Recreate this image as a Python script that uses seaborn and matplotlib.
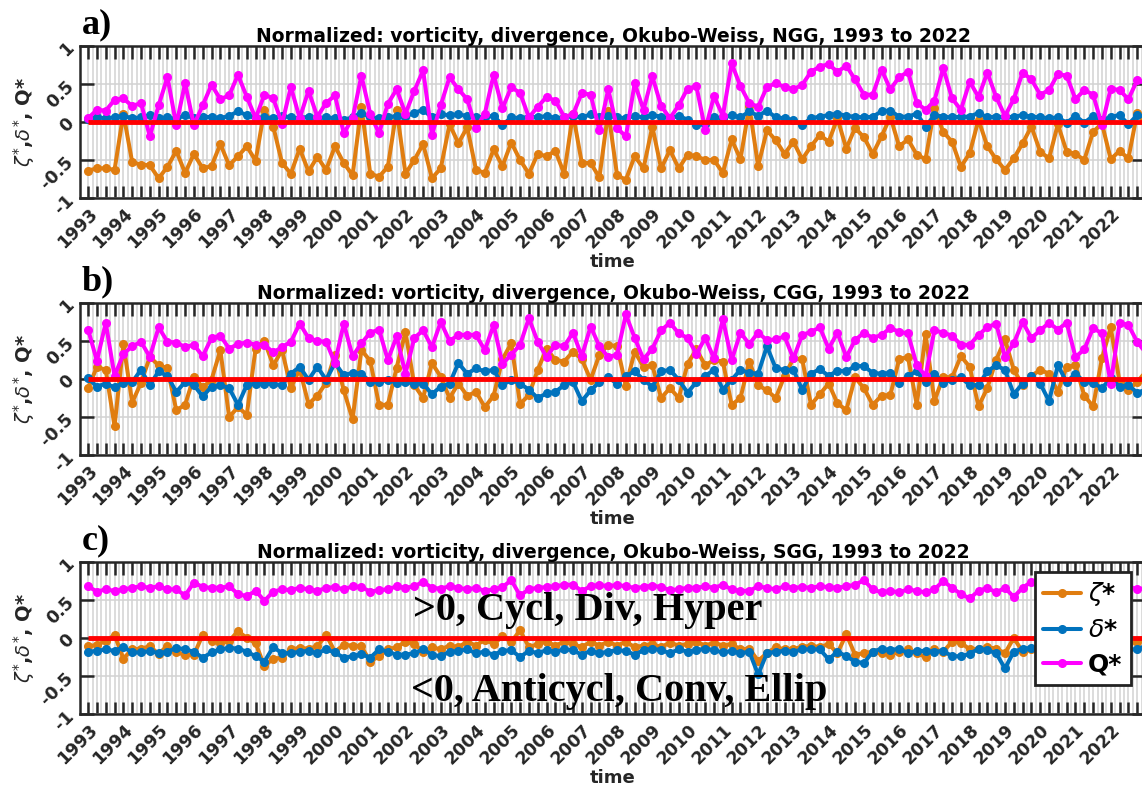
import numpy as np
import pandas as pd
import matplotlib.pyplot as plt
import seaborn as sns

# quarterly time axis, 1993 .. 2023
n_pts = 121
t = 1993 + np.arange(n_pts) / 4.0
years = np.arange(1993, 2023)

# ---- panel a) NGG ----
za = [-0.64, -0.61, -0.61, -0.63,  0.11, -0.53, -0.56, -0.57,  -0.74, -0.59, -0.38, -0.67,
      -0.42, -0.61, -0.58, -0.29,  -0.57, -0.45, -0.32, -0.51,  0.16, -0.06, -0.54, -0.68,
      -0.35, -0.65, -0.46, -0.63,  -0.32, -0.54, -0.70, 0.20,  -0.68, -0.72, -0.59, 0.16,
      -0.68, -0.50, -0.29, -0.74,  -0.61, -0.03, -0.28, -0.07,  -0.63, -0.67, -0.36, -0.58,
      -0.27, -0.50, -0.68, -0.42,  -0.45, -0.38, -0.68, 0.11,  -0.54, -0.54, -0.73, 0.14,
      -0.70, -0.76, -0.45, -0.61,  -0.06, -0.61, -0.37, -0.61,  -0.43, -0.45, -0.50, -0.50,
      -0.67, -0.23, -0.49, 0.21,  -0.58, -0.11, -0.24, -0.42,  -0.26, -0.49, -0.32, -0.17,
      -0.26, 0.05, -0.35, -0.08,  -0.20, -0.42, -0.19, 0.07,  -0.32, -0.23, -0.43, -0.49,
      0.18, -0.13, -0.26, -0.59,  -0.41, 0.03, -0.32, -0.49,  -0.63, -0.48, -0.28, -0.06,
      -0.39, -0.48, -0.03, -0.39,  -0.42, -0.50, -0.13, -0.02,  -0.49, -0.38, -0.48, 0.12,
      -0.04]
da = [0.04, 0.06, 0.05, 0.06,  0.08, 0.05, 0.06, 0.09,  0.05, 0.06, 0.04, 0.09,
      0.05, 0.06, 0.07, 0.05,  0.08, 0.14, 0.09, 0.05,  0.06, 0.05, 0.08, 0.06,
      0.05, 0.07, 0.05, 0.06,  0.05, 0.03, 0.06, 0.12,  0.06, 0.05, 0.06, 0.08,
      0.07, 0.12, 0.16, 0.06,  0.10, 0.09, 0.10, 0.08,  0.06, 0.07, 0.08, -0.04,
      0.06, 0.05, 0.07, 0.06,  0.08, 0.05, 0.06, 0.08,  0.06, 0.10, 0.06, 0.08,
      0.06, 0.05, 0.08, 0.06,  0.09, 0.07, 0.05, 0.08,  0.03, -0.04, -0.03, 0.06,
      0.05, 0.09, 0.06, 0.14,  0.08, 0.15, 0.06, 0.05,  0.02, -0.04, 0.05, 0.07,
      0.09, 0.11, 0.08, 0.07,  0.06, 0.07, 0.14, 0.15,  0.07, 0.07, 0.11, -0.06,
      0.09, 0.07, 0.06, 0.07,  0.07, 0.12, 0.06, 0.07,  0.06, 0.07, 0.09, 0.07,
      0.06, 0.05, 0.06, -0.01,  0.08, -0.01, 0.08, 0.02,  0.07, 0.09, -0.03, 0.09,
      0.07]
qa = [0.05, 0.16, 0.15, 0.29,  0.31, 0.21, 0.25, -0.19,  0.22, 0.59, -0.04, 0.51,
      -0.04, 0.22, 0.49, 0.30,  0.35, 0.62, 0.33, 0.05,  0.36, 0.31, -0.02, 0.46,
      0.05, 0.41, 0.07, 0.25,  0.35, -0.15, 0.05, 0.61,  0.11, -0.15, 0.24, 0.43,
      0.11, 0.41, 0.68, -0.17,  0.22, 0.59, 0.43, 0.30,  -0.08, 0.11, 0.62, 0.18,
      0.46, 0.38, 0.06, 0.20,  0.33, 0.28, 0.07, 0.10,  0.38, 0.36, -0.11, 0.43,
      -0.08, -0.19, 0.51, 0.16,  0.60, 0.21, 0.05, 0.22,  0.44, 0.47, -0.10, 0.34,
      0.08, 0.77, 0.47, 0.25,  0.20, 0.46, 0.51, 0.46,  0.43, 0.49, 0.66, 0.73,
      0.76, 0.66, 0.74, 0.56,  0.36, 0.36, 0.69, 0.43,  0.59, 0.66, 0.25, 0.16,
      0.28, 0.71, 0.31, 0.16,  0.53, 0.33, 0.65, 0.33,  0.08, 0.30, 0.65, 0.56,
      0.36, 0.42, 0.63, 0.61,  0.30, 0.42, 0.36, -0.04,  0.44, 0.42, 0.30, 0.55,
      0.51]

# ---- panel b) CGG ----
zb = [-0.12, 0.16, 0.12, -0.62,  0.46, -0.31, -0.05, 0.29,  0.18, 0.14, -0.41, -0.34,
      0.03, -0.11, -0.01, 0.38,  -0.50, -0.37, -0.47, 0.40,  0.50, 0.18, 0.38, -0.12,
      0.13, -0.33, -0.22, -0.05,  0.32, -0.15, -0.53, 0.38,  0.24, -0.34, -0.34, 0.15,
      0.62, -0.08, -0.25, 0.21,  0.03, -0.25, -0.06, -0.22,  -0.17, -0.37, -0.22, 0.26,
      0.47, -0.33, -0.21, 0.12,  0.40, 0.25, 0.23, 0.36,  0.26, -0.01, 0.32, 0.45,
      0.43, -0.09, 0.36, 0.16,  0.18, -0.25, -0.12, -0.25,  0.20, 0.39, 0.18, 0.25,
      0.23, -0.34, -0.25, 0.23,  -0.08, -0.15, -0.25, 0.04,  0.27, 0.26, -0.34, -0.20,
      -0.06, -0.32, -0.41, 0.02,  -0.12, -0.34, -0.22, -0.21,  0.26, 0.29, -0.34, 0.59,
      -0.29, 0.03, 0.02, 0.30,  0.16, -0.36, -0.12, 0.25,  0.52, 0.12, -0.08, 0.04,
      0.12, 0.07, -0.17, 0.16,  0.18, -0.22, -0.36, 0.27,  0.68, -0.04, -0.14, -0.04,
      0.10]
db = [0.01, -0.10, -0.06, -0.11,  -0.05, -0.04, 0.12, -0.08,  0.10, 0.04, -0.17, -0.04,
      -0.08, -0.23, -0.10, -0.08,  -0.12, -0.34, -0.08, -0.06,  -0.06, -0.07, -0.08, 0.07,
      0.16, -0.01, 0.16, -0.01,  0.21, 0.05, 0.08, 0.07,  -0.04, -0.04, -0.01, -0.05,
      -0.04, -0.06, -0.06, -0.20,  -0.10, -0.06, 0.21, 0.07,  0.14, 0.10, 0.12, -0.08,
      -0.01, -0.06, -0.14, -0.25,  -0.19, -0.17, -0.08, -0.04,  -0.29, -0.15, -0.04, 0.02,
      -0.06, 0.04, 0.10, -0.01,  -0.10, 0.10, 0.12, -0.01,  -0.18, -0.04, 0.04, 0.12,
      -0.14, -0.01, 0.12, 0.08,  0.07, 0.43, 0.14, 0.12,  0.12, -0.14, 0.07, 0.13,
      0.04, 0.11, 0.10, 0.17,  0.17, 0.08, 0.07, 0.08,  -0.05, 0.04, 0.10, -0.04,
      0.07, -0.05, -0.01, 0.02,  -0.08, -0.08, 0.10, 0.18,  0.12, -0.20, -0.06, 0.04,
      -0.06, -0.29, 0.18, -0.04,  0.07, -0.04, -0.05, -0.12,  0.01, -0.10, -0.08, -0.18,
      -0.14]
qb = [0.65, 0.24, 0.74, 0.04,  0.33, 0.43, 0.49, 0.29,  0.68, 0.49, 0.48, 0.42,
      0.45, 0.30, 0.54, 0.57,  0.40, 0.46, 0.48, 0.45,  0.45, 0.35, 0.42, 0.49,
      0.73, 0.54, 0.50, 0.49,  0.21, 0.73, 0.30, 0.47,  0.61, 0.65, 0.25, 0.56,
      0.07, 0.54, 0.64, 0.42,  0.75, 0.50, 0.58, 0.58,  0.58, 0.38, 0.71, 0.20,
      0.32, 0.45, 0.80, 0.49,  0.29, 0.45, 0.43, 0.61,  0.30, 0.69, 0.43, 0.29,
      0.32, 0.85, 0.54, 0.26,  0.40, 0.64, 0.74, 0.60,  0.54, 0.33, 0.54, 0.27,
      0.79, 0.25, 0.61, 0.46,  0.61, 0.51, 0.52, 0.56,  0.27, 0.58, 0.62, 0.68,
      0.40, 0.61, 0.29, 0.51,  0.61, 0.54, 0.58, 0.67,  0.62, 0.60, 0.18, 0.04,
      0.64, 0.61, 0.57, 0.45,  0.45, 0.58, 0.68, 0.73,  0.29, 0.47, 0.75, 0.54,
      0.64, 0.74, 0.65, 0.74,  0.29, 0.39, 0.67, 0.60,  -0.06, 0.74, 0.71, 0.49,
      0.34]

# ---- panel c) SGG ----
zc = [-0.11, -0.09, -0.04, 0.04,  -0.27, -0.15, -0.14, -0.11,  -0.21, -0.10, -0.19, -0.22,
      -0.22, 0.04, -0.04, -0.07,  -0.04, 0.09, 0.00, -0.07,  -0.37, -0.27, -0.26, -0.15,
      -0.13, -0.14, -0.11, 0.04,  -0.18, -0.09, -0.10, -0.11,  -0.31, -0.24, -0.15, -0.12,
      -0.05, -0.08, -0.18, -0.12,  -0.15, -0.10, -0.12, -0.05,  -0.10, -0.02, -0.08, 0.02,
      -0.05, 0.10, -0.12, -0.08,  -0.05, -0.10, -0.05, -0.08,  -0.12, -0.05, -0.10, -0.05,
      -0.10, -0.05, -0.12, -0.10,  -0.08, -0.12, -0.06, -0.10,  -0.08, -0.05, -0.10, -0.06,
      -0.10, -0.08, -0.15, -0.14,  -0.30, -0.20, -0.12, -0.15,  -0.14, -0.12, -0.10, -0.12,
      -0.08, -0.20, 0.05, -0.22,  -0.20, -0.18, -0.20, -0.22,  -0.18, -0.15, -0.20, -0.25,
      -0.15, -0.18, -0.05, -0.06,  -0.15, -0.14, -0.12, -0.14,  -0.20, 0.00, -0.18, -0.15,
      -0.20, -0.16, -0.14, -0.12,  -0.15, -0.10, -0.12, -0.14,  -0.12, -0.10, -0.08, -0.05,
      -0.02]
dc = [-0.18, -0.17, -0.15, -0.17,  -0.12, -0.19, -0.19, -0.17,  -0.20, -0.18, -0.13, -0.15,
      -0.18, -0.26, -0.19, -0.15,  -0.13, -0.14, -0.18, -0.24,  -0.31, -0.12, -0.20, -0.20,
      -0.18, -0.17, -0.20, -0.15,  -0.19, -0.26, -0.24, -0.21,  -0.26, -0.15, -0.18, -0.22,
      -0.22, -0.20, -0.15, -0.22,  -0.24, -0.18, -0.17, -0.15,  -0.20, -0.18, -0.22, -0.17,
      -0.16, -0.25, -0.17, -0.20,  -0.16, -0.18, -0.15, -0.16,  -0.22, -0.17, -0.20, -0.18,
      -0.16, -0.17, -0.22, -0.16,  -0.14, -0.16, -0.20, -0.15,  -0.18, -0.16, -0.14, -0.16,
      -0.19, -0.17, -0.20, -0.18,  -0.48, -0.20, -0.18, -0.17,  -0.18, -0.15, -0.15, -0.15,
      -0.28, -0.18, -0.24, -0.31,  -0.33, -0.18, -0.14, -0.16,  -0.14, -0.20, -0.17, -0.17,
      -0.18, -0.17, -0.24, -0.24,  -0.21, -0.14, -0.16, -0.20,  -0.40, -0.18, -0.14, -0.13,
      -0.15, -0.17, -0.16, -0.18,  -0.17, -0.15, -0.16, -0.18,  -0.16, -0.17, -0.15, -0.15,
      -0.10]
qc = [0.68, 0.61, 0.64, 0.62,  0.64, 0.66, 0.68, 0.66,  0.68, 0.64, 0.64, 0.56,
      0.73, 0.67, 0.66, 0.66,  0.68, 0.58, 0.55, 0.62,  0.49, 0.61, 0.64, 0.63,
      0.66, 0.64, 0.62, 0.66,  0.67, 0.64, 0.68, 0.67,  0.61, 0.63, 0.64, 0.68,
      0.66, 0.68, 0.74, 0.66,  0.65, 0.68, 0.66, 0.64,  0.66, 0.62, 0.64, 0.67,
      0.76, 0.56, 0.64, 0.66,  0.67, 0.68, 0.70, 0.70,  0.62, 0.68, 0.70, 0.68,
      0.70, 0.68, 0.66, 0.67,  0.69, 0.67, 0.63, 0.64,  0.66, 0.66, 0.68, 0.66,
      0.70, 0.64, 0.62, 0.62,  0.68, 0.66, 0.64, 0.68,  0.66, 0.67, 0.66, 0.68,
      0.67, 0.66, 0.68, 0.70,  0.76, 0.64, 0.60, 0.62,  0.60, 0.64, 0.62, 0.60,
      0.64, 0.75, 0.66, 0.58,  0.52, 0.62, 0.66, 0.60,  0.66, 0.54, 0.66, 0.74,
      0.68, 0.64, 0.66, 0.68,  0.66, 0.64, 0.68, 0.66,  0.64, 0.66, 0.68, 0.64,
      0.66]

regions = ['NGG', 'CGG', 'SGG']
tags = ['a)', 'b)', 'c)']
series_names = ['zeta', 'delta', 'Q']
colors = {'zeta': '#E07D10', 'delta': '#0072BD', 'Q': '#FF00FF'}
legend_labels = [r'$\zeta$*', r'$\delta$*', 'Q*']

sns.set_style('white')
plt.rcParams['font.family'] = ['DejaVu Sans']
plt.rcParams['mathtext.fontset'] = 'dejavusans'

W, H = 1142, 787
fig = plt.figure(figsize=(W / 100, H / 100), dpi=100)
dark = '#262626'
tops = [46, 303, 562]
ax_h = 152

data_sets = [(za, da, qa), (zb, db, qb), (zc, dc, qc)]
for k, (z, d, q) in enumerate(data_sets):
    top = tops[k]
    ax = fig.add_axes([80 / W, 1 - (top + ax_h) / H, 1066 / W, ax_h / H])
    df = pd.DataFrame({'t': t, 'zeta': z, 'delta': d, 'Q': q})
    for name in series_names:
        sns.lineplot(data=df, x='t', y=name, ax=ax, color=colors[name], lw=2.9,
                     marker='o', markersize=5.5, mec=colors[name], mew=1,
                     zorder=3)
    # zero reference line over the data span
    ax.hlines(0, t[0], t[-1], color='#FF0000', lw=3.5, zorder=5)

    ax.set_xlim(1992.77, 2023.0)
    ax.set_ylim(-1, 1)
    qticks = t[:-1]
    ax.set_xticks(qticks)
    ax.set_xticklabels([str(int(v)) if v == int(v) else '' for v in qticks])
    ax.set_xticks(qticks + 0.125, minor=True)
    ax.tick_params(axis='x', which='major', direction='in', length=9, width=1.8,
                   top=True, bottom=True, color=dark, labelsize=12.5,
                   labelcolor=dark, pad=5)
    ax.tick_params(axis='x', which='minor', length=0)
    for lbl in ax.get_xticklabels():
        lbl.set_rotation(45)
        lbl.set_ha('right')
        lbl.set_rotation_mode('anchor')
        lbl.set_fontweight('bold')

    ax.set_yticks([-1, -0.5, 0, 0.5, 1])
    ax.set_yticklabels(['-1', '-0.5', '0', '0.5', '1'])
    ax.tick_params(axis='y', direction='in', length=10, width=1.8, left=True,
                   right=True, color=dark, labelsize=12.5, labelcolor=dark,
                   labelrotation=45, pad=2)
    for lbl in ax.get_yticklabels():
        lbl.set_fontweight('bold')

    ax.grid(True, which='major', color='#d2d2d2', lw=1.1)
    ax.grid(True, which='minor', axis='x', color='#d2d2d2', lw=1.1)
    ax.set_axisbelow(True)
    for sp in ax.spines.values():
        sp.set_color(dark)
        sp.set_linewidth(1.8)

    ax.set_title(f'Normalized: vorticity, divergence, Okubo-Weiss, {regions[k]}, 1993 to 2022',
                 fontsize=13.5, fontweight='bold', pad=3, color='black')
    ax.set_xlabel('time', fontsize=13, fontweight='bold', color=dark)
    ax.xaxis.set_label_coords(0.5, -0.36)
    ax.set_ylabel(r'$\zeta^{*}$,$\delta^{*}$, Q*', fontsize=14, fontweight='bold',
                  color=dark)
    ax.yaxis.set_label_coords(-0.04, 0.5)

    fig.text(82 / W, 1 - (top - 21) / H, tags[k], family='Liberation Serif',
             fontweight='bold', fontsize=26, va='center', ha='left', color='black')

    if ax.get_legend() is not None:
        ax.get_legend().remove()

    if k == 2:
        ax.text(2002.2, 0.36, '>0, Cycl, Div, Hyper', family='Liberation Serif',
                fontweight='bold', fontsize=29, va='center', ha='left', zorder=6,
                color='black')
        ax.text(2002.15, -0.70, '<0, Anticycl, Conv, Ellip', family='Liberation Serif',
                fontweight='bold', fontsize=29, va='center', ha='left', zorder=6,
                color='black')
        handles = ax.get_lines()[:3]
        leg = ax.legend(handles, legend_labels, loc='upper right',
                        bbox_to_anchor=(0.986, 0.935), fontsize=18, frameon=True,
                        fancybox=False, edgecolor='#222222', framealpha=1,
                        handlelength=1.5, handletextpad=0.3, borderpad=0.34,
                        labelspacing=0.4, borderaxespad=0)
        leg.get_frame().set_linewidth(2)
        leg.set_zorder(10)
        for txt in leg.get_texts():
            txt.set_fontweight('bold')
            txt.set_color('black')

fig.savefig('out.png', dpi=100)
